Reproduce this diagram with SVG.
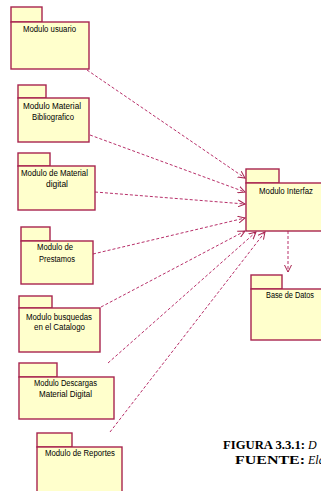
<svg xmlns="http://www.w3.org/2000/svg" width="321" height="491" viewBox="0 0 321 491">
<style>
.pk{fill:#ffffcc;stroke:#a8244f;stroke-width:1.4}
.t{font-family:"Liberation Sans",Arial,sans-serif;font-size:8.5px;fill:#000;text-anchor:middle}
.c{fill:none;stroke:#b8306a;stroke-width:1;stroke-dasharray:3,2}
.cap{font-family:"Liberation Serif","Times New Roman",serif;font-size:12px;fill:#000}
</style>
<defs>
<marker id="ah" markerWidth="8" markerHeight="8" refX="7" refY="4" orient="auto" markerUnits="userSpaceOnUse">
<path d="M0,0.5 L7,4 L0,7.5" fill="none" stroke="#a8244f" stroke-width="1"/>
</marker>
</defs>
<rect width="321" height="491" fill="#fff"/>
<g id="connectors">
<line class="c" x1="87" y1="70" x2="245" y2="178" marker-end="url(#ah)"/>
<line class="c" x1="90" y1="135" x2="245" y2="192" marker-end="url(#ah)"/>
<line class="c" x1="95" y1="192" x2="245" y2="204" marker-end="url(#ah)"/>
<line class="c" x1="93" y1="254" x2="245" y2="218" marker-end="url(#ah)"/>
<line class="c" x1="101" y1="307" x2="245" y2="231" marker-end="url(#ah)"/>
<line class="c" x1="108" y1="363" x2="256" y2="232" marker-end="url(#ah)"/>
<line class="c" x1="110" y1="432" x2="265" y2="232" marker-end="url(#ah)"/>
<line class="c" x1="288" y1="231" x2="288" y2="272" marker-end="url(#ah)"/>
</g>
<g id="usuario">
<rect class="pk" x="11" y="7" width="31" height="15"/>
<rect class="pk" x="11" y="22" width="78" height="47"/>
<text class="t" x="49.5" y="32" textLength="53" lengthAdjust="spacingAndGlyphs">Modulo usuario</text>
</g>
<g id="bibliografico">
<rect class="pk" x="18" y="85" width="28" height="13"/>
<rect class="pk" x="18" y="98" width="71" height="44"/>
<text class="t" x="52" y="109" textLength="58" lengthAdjust="spacingAndGlyphs">Modulo Material</text>
<text class="t" x="53" y="120" textLength="42" lengthAdjust="spacingAndGlyphs">Bibliografico</text>
</g>
<g id="digital">
<rect class="pk" x="18" y="153" width="32" height="13"/>
<rect class="pk" x="18" y="166" width="77" height="44"/>
<text class="t" x="54.5" y="176" textLength="67" lengthAdjust="spacingAndGlyphs">Modulo de Material</text>
<text class="t" x="57" y="187" textLength="22" lengthAdjust="spacingAndGlyphs">digital</text>
</g>
<g id="prestamos">
<rect class="pk" x="21" y="227" width="29" height="14"/>
<rect class="pk" x="21" y="241" width="72" height="43"/>
<text class="t" x="55" y="250" textLength="36" lengthAdjust="spacingAndGlyphs">Modulo de</text>
<text class="t" x="57" y="262" textLength="36" lengthAdjust="spacingAndGlyphs">Prestamos</text>
</g>
<g id="busquedas">
<rect class="pk" x="19" y="296" width="33" height="12"/>
<rect class="pk" x="19" y="308" width="81" height="44"/>
<text class="t" x="59" y="320" textLength="66" lengthAdjust="spacingAndGlyphs">Modulo busquedas</text>
<text class="t" x="59.5" y="330" textLength="51" lengthAdjust="spacingAndGlyphs">en el Catalogo</text>
</g>
<g id="descargas">
<rect class="pk" x="19" y="363" width="38" height="14"/>
<rect class="pk" x="19" y="377" width="95" height="42"/>
<text class="t" x="65.5" y="386" textLength="63" lengthAdjust="spacingAndGlyphs">Modulo Descargas</text>
<text class="t" x="65.5" y="397" textLength="53" lengthAdjust="spacingAndGlyphs">Material Digital</text>
</g>
<g id="reportes">
<rect class="pk" x="37" y="433" width="35" height="14"/>
<rect class="pk" x="37" y="447" width="85" height="60"/>
<text class="t" x="80" y="456" textLength="70" lengthAdjust="spacingAndGlyphs">Modulo de Reportes</text>
</g>
<g id="interfaz">
<rect class="pk" x="246" y="169" width="33" height="14"/>
<rect class="pk" x="246" y="183" width="90" height="48"/>
<text class="t" x="286" y="194" textLength="54" lengthAdjust="spacingAndGlyphs">Modulo Interfaz</text>
</g>
<g id="basedatos">
<rect class="pk" x="251" y="275" width="31" height="14"/>
<rect class="pk" x="251" y="289" width="85" height="51"/>
<text class="t" x="290" y="298" textLength="48" lengthAdjust="spacingAndGlyphs">Base de Datos</text>
</g>
<g id="caption">
<text class="cap" x="223" y="449"><tspan font-weight="bold" textLength="82" lengthAdjust="spacingAndGlyphs">FIGURA 3.3.1:</tspan><tspan font-style="italic" x="308">D</tspan></text>
<text class="cap" x="235" y="464"><tspan font-weight="bold" textLength="70" lengthAdjust="spacingAndGlyphs">FUENTE:</tspan><tspan font-style="italic" x="308">Ela</tspan></text>
</g>
</svg>
